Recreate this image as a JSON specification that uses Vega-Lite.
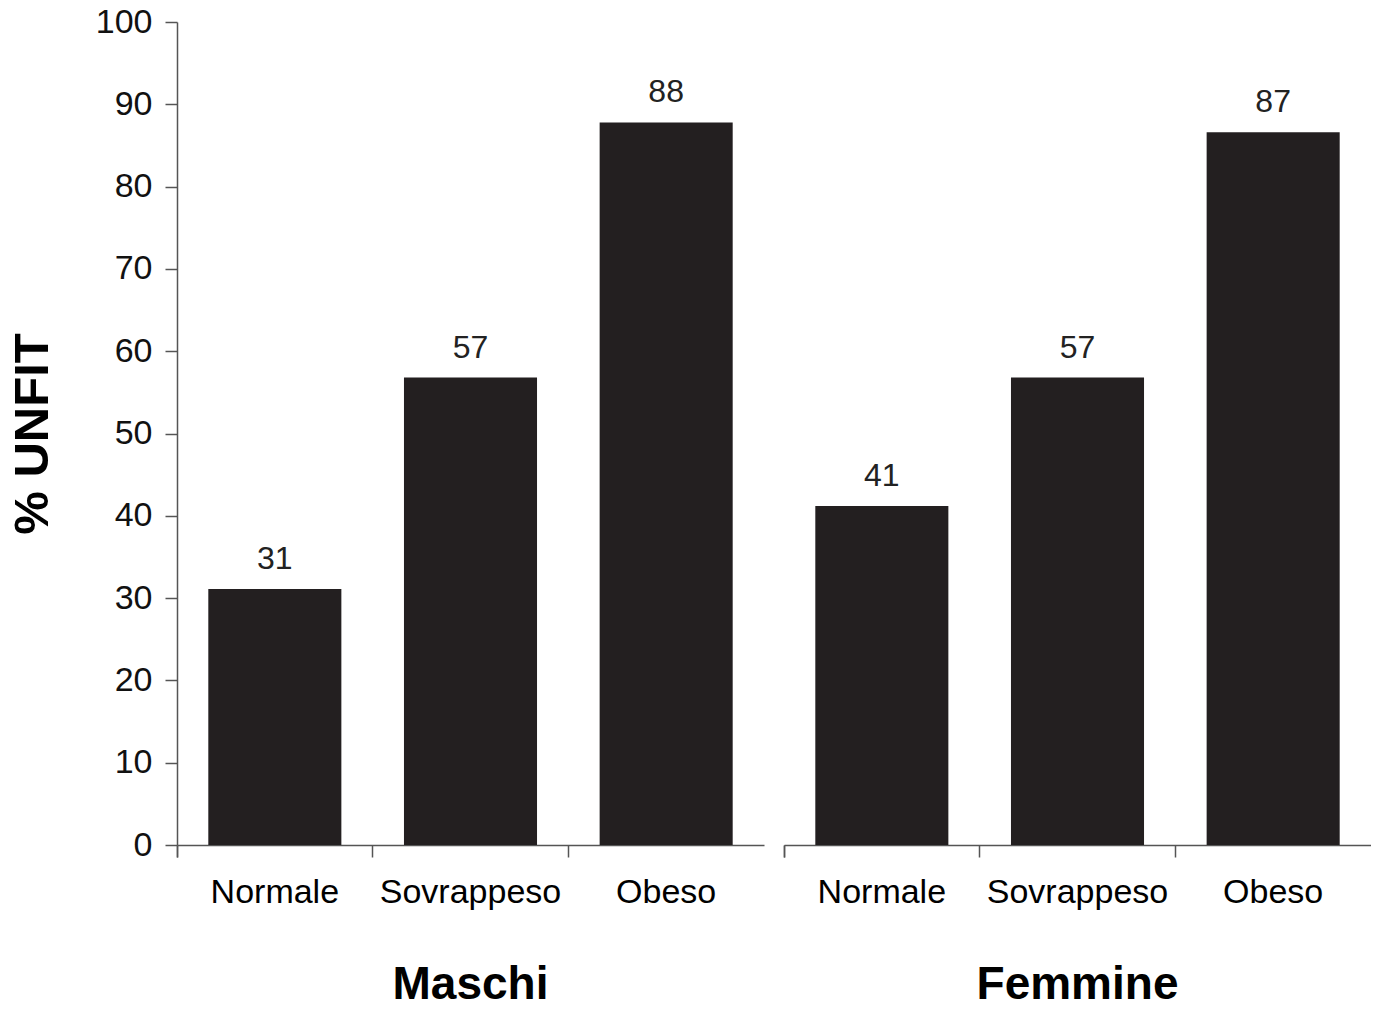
{
  "$schema": "https://vega.github.io/schema/vega-lite/v6.json",
  "padding": {"left": 8, "top": 5, "right": 0, "bottom": 0},
  "background": "white",
  "data": {"values": [
    {"sex": "Maschi", "cat": "Normale", "value": 31.1, "label": "31"},
    {"sex": "Maschi", "cat": "Sovrappeso", "value": 56.8, "label": "57"},
    {"sex": "Maschi", "cat": "Obeso", "value": 87.8, "label": "88"},
    {"sex": "Femmine", "cat": "Normale", "value": 41.2, "label": "41"},
    {"sex": "Femmine", "cat": "Sovrappeso", "value": 56.8, "label": "57"},
    {"sex": "Femmine", "cat": "Obeso", "value": 86.6, "label": "87"}
  ]},
  "facet": {
    "column": {
      "field": "sex", "type": "nominal", "sort": ["Maschi", "Femmine"], "title": null,
      "header": {"labelOrient": "bottom", "labelFontSize": 46, "labelFontWeight": "bold", "labelFont": "Liberation Sans", "labelColor": "#000", "labelPadding": 54}
    }
  },
  "spacing": 20,
  "spec": {
    "width": 587,
    "height": 823,
    "encoding": {
      "x": {
        "field": "cat", "type": "nominal", "sort": ["Normale", "Sovrappeso", "Obeso"],
        "scale": {"paddingInner": 0, "paddingOuter": 0},
        "axis": {"title": null, "labelAngle": 0, "bandPosition": 0, "tickExtra": true, "labelPadding": 18, "tickSize": 12, "labelFontSize": 34, "labelLimit": 0, "labelColor": "#000"}
      },
      "y": {
        "field": "value", "type": "quantitative",
        "scale": {"domain": [0, 100]},
        "axis": {"title": "% UNFIT", "values": [0,10,20,30,40,50,60,70,80,90,100], "tickSize": 12, "labelPadding": 13, "labelFontSize": 34, "titleFontSize": 49, "titleFontWeight": "bold", "titlePadding": 38, "grid": false, "titleColor": "#000"}
      }
    },
    "layer": [
      {"mark": {"type": "bar", "color": "#231f20", "width": {"band": 0.68}}},
      {"mark": {"type": "text", "baseline": "alphabetic", "dy": -20, "fontSize": 32, "font": "Liberation Sans", "color": "#222"},
       "encoding": {"text": {"field": "label"}}}
    ]
  },
  "config": {
    "view": {"stroke": null},
    "axis": {"labelFont": "Liberation Sans", "titleFont": "Liberation Sans", "labelColor": "#111", "domainColor": "#555", "tickColor": "#555", "domainWidth": 1.5, "tickWidth": 1.5}
  }
}
